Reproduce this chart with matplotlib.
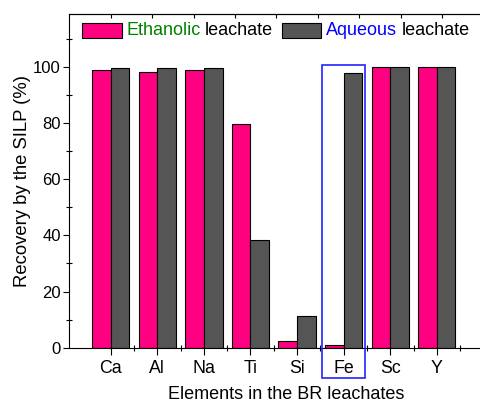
import numpy as np
import matplotlib
matplotlib.use('Agg')
import matplotlib.pyplot as plt
from matplotlib.patches import Rectangle
from matplotlib.ticker import MultipleLocator, FixedLocator

plt.rcParams['font.family'] = ['Liberation Sans', 'DejaVu Sans']

elements = ['Ca', 'Al', 'Na', 'Ti', 'Si', 'Fe', 'Sc', 'Y']
ethanolic = [99.1, 98.3, 99.1, 79.8, 2.4, 0.9, 100.0, 100.0]
aqueous = [99.7, 99.7, 99.6, 38.3, 11.2, 97.7, 100.0, 100.0]

PINK = '#ff0080'
GREY = '#555555'

fig = plt.figure(figsize=(4.81, 4.01), dpi=100)
# axes run past the right edge of the figure
ax = fig.add_axes([69 / 481, 53.3 / 401, (503 - 69) / 481, 334 / 401])

x = np.arange(1, len(elements) + 1)
w = 0.4
ax.bar(x - w / 2, ethanolic, w, color=PINK, edgecolor='black', linewidth=0.8)
ax.bar(x + w / 2, aqueous, w, color=GREY, edgecolor='black', linewidth=0.8)

ax.set_xlim(0.105, 9.42)
ax.set_ylim(0, 119)

ax.set_xticks(x)
ax.set_xticklabels(elements, fontsize=12.8)
ax.xaxis.set_minor_locator(FixedLocator(x + 0.5))
ax.set_yticks(np.arange(0, 101, 20))
ax.yaxis.set_minor_locator(MultipleLocator(10))
ax.tick_params(axis='y', which='major', direction='out', length=4, width=0.8,
               labelsize=12, pad=2)
ax.tick_params(axis='y', which='minor', direction='inout', length=4, width=0.8)
ax.tick_params(axis='x', which='major', direction='out', length=5, width=0.8, pad=3.5)
ax.tick_params(axis='x', which='minor', direction='inout', length=4, width=0.8)
ax.spines['right'].set_visible(False)

top = ax.secondary_xaxis('top')
top.set_xticks(np.arange(1.0, 9.4, 0.889))
top.set_xticklabels([])
top.tick_params(direction='in', length=3, width=0.8)

ax.set_xlabel('Elements in the BR leachates', fontsize=13, labelpad=6.5)
ax.set_ylabel('Recovery by the SILP (%)', fontsize=13.3, labelpad=1.5)

# highlight the Fe group
ax.add_patch(Rectangle((5.537, -10.7), 0.917, 111.4, fill=False,
                       edgecolor='#2222ff', linewidth=1.2, clip_on=False, zorder=5))

# legend with coloured solvent names
ax.add_patch(Rectangle((0.029, 0.926), 0.092, 0.045, transform=ax.transAxes,
                       facecolor=PINK, edgecolor='black', linewidth=0.8))
ax.add_patch(Rectangle((0.49, 0.926), 0.091, 0.045, transform=ax.transAxes,
                       facecolor=GREY, edgecolor='black', linewidth=0.8))
t1 = ax.text(0.133, 0.949, 'Ethanolic', transform=ax.transAxes, color='green',
             fontsize=13, va='center')
ax.annotate('leachate', xy=(1, 0), xycoords=t1, xytext=(3, 0),
            textcoords='offset points', fontsize=13, va='bottom')
t2 = ax.text(0.593, 0.949, 'Aqueous', transform=ax.transAxes, color='blue',
             fontsize=13, va='center')
ax.annotate('leachate', xy=(1, 0), xycoords=t2, xytext=(3, 0),
            textcoords='offset points', fontsize=13, va='bottom')

fig.savefig('out.png', dpi=100)
